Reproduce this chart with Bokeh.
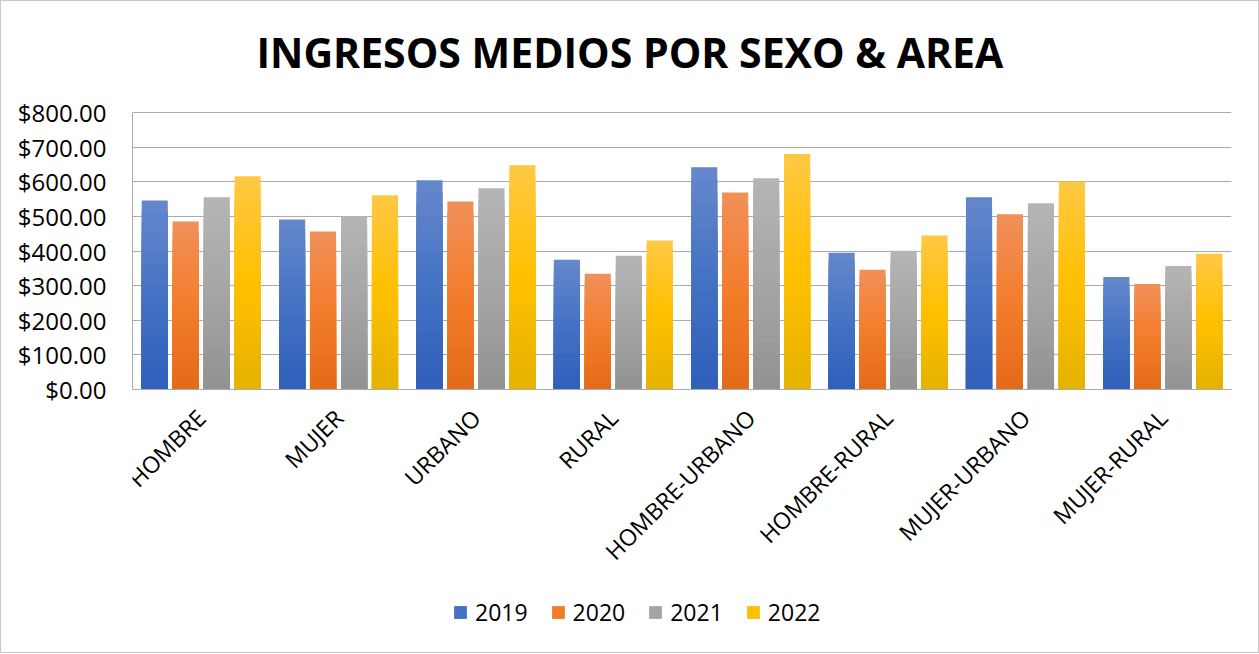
import math
from bokeh.plotting import figure
from bokeh.models import (ColumnDataSource, FactorRange, Legend, LegendItem,
                          FixedTicker, NumeralTickFormatter, Range1d)
from bokeh.transform import dodge
from bokeh.embed import file_html
from bokeh.resources import INLINE

categories = ["HOMBRE", "MUJER", "URBANO", "RURAL", "HOMBRE-URBANO",
              "HOMBRE-RURAL", "MUJER-URBANO", "MUJER-RURAL"]
years = ["2019", "2020", "2021", "2022"]
v2019 = [546, 491, 604, 375, 642, 395, 555, 325]
v2020 = [485, 456, 543, 334, 569, 346, 506, 305]
v2021 = [555, 501, 581, 386, 610, 401, 538, 357]
v2022 = [616, 561, 648, 430, 680, 445, 601, 392]
y_ticks = [0, 100, 200, 300, 400, 500, 600, 700, 800]

# gradient stops per series: (top, middle, bottom)
grad_stops = [("#6688CC", "#4472C4", "#2F5FB9"),
              ("#F0905A", "#F47D2C", "#E36A18"),
              ("#B5B5B5", "#A5A5A5", "#929292"),
              ("#FFC845", "#FFC000", "#E5B200")]


def hex2rgb(h):
    h = h.lstrip("#")
    return tuple(int(h[i:i + 2], 16) for i in (0, 2, 4))


def mix(c1, c2, t):
    a, b = hex2rgb(c1), hex2rgb(c2)
    return "#%02x%02x%02x" % tuple(round(a[i] + (b[i] - a[i]) * t) for i in range(3))


def grad_color(stops, t):
    top, mid, bot = stops
    if t <= 0.5:
        return mix(top, mid, t / 0.5)
    return mix(mid, bot, (t - 0.5) / 0.5)


series = [v2019, v2020, v2021, v2022]
N = 18
data = dict(cat=categories)
for si, vals in enumerate(series):
    for k in range(1, N + 1):
        data["s%d_%d" % (si, k)] = [v * k / N for v in vals]
source = ColumnDataSource(data=data)

FONT = "Open Sans"

# layout geometry (pixels): value axis 0..800 spans 277 px; the frame is
# extended above and below so the legend can sit inside it
AXIS_PX = 277.0
PX_PER_UNIT = AXIS_PX / 800.0
EXTRA_TOP = 11
EXTRA_BOTTOM = 263
FRAME_H = int(AXIS_PX + EXTRA_TOP + EXTRA_BOTTOM)
y_start = -EXTRA_BOTTOM / PX_PER_UNIT
y_end = 800 + EXTRA_TOP / PX_PER_UNIT

p = figure(x_range=FactorRange(*categories, range_padding=0),
           y_range=Range1d(y_start, y_end),
           frame_width=1099, frame_height=FRAME_H,
           output_backend="svg", toolbar_location=None,
           min_border_left=131, min_border_right=27, min_border_top=100,
           min_border_bottom=0)

p.title.text = "INGRESOS MEDIOS POR SEXO & AREA"
p.title.align = "left"
p.title.offset = 124
p.title.vertical_align = "top"
p.title.text_font = FONT
p.title.text_font_style = "bold"
p.title.text_font_size = "41px"
p.title.text_color = "#000000"
p.title.standoff = 40

bar_w = 0.19
offsets = [-0.338, -0.113, 0.113, 0.338]
legend_renderers = []
for si, off in enumerate(offsets):
    mid_r = None
    for k in range(N, 0, -1):
        t = 1 - (k - 0.5) / N
        r = p.vbar(x=dodge("cat", off, range=p.x_range), top="s%d_%d" % (si, k),
                   width=bar_w, source=source,
                   fill_color=grad_color(grad_stops[si], t), line_color=None)
        if k == N // 2:
            mid_r = r
    legend_renderers.append(mid_r)

p.xgrid.grid_line_color = None
p.ygrid.grid_line_color = "#ababab"
p.ygrid.grid_line_width = 1
p.ygrid.ticker = FixedTicker(ticks=y_ticks)
p.outline_line_color = None

p.yaxis.ticker = FixedTicker(ticks=y_ticks)
p.yaxis.bounds = (0, 800)
p.yaxis.formatter = NumeralTickFormatter(format="$0.00")
p.yaxis.axis_line_color = "#ababab"
p.yaxis.major_tick_line_color = None
p.yaxis.minor_tick_line_color = None
p.yaxis.major_tick_out = 0
p.yaxis.major_label_standoff = 26
p.yaxis.major_label_text_font = FONT
p.yaxis.major_label_text_font_size = "24px"
p.yaxis.major_label_text_color = "#000000"

p.xaxis.fixed_location = 0
p.xaxis.axis_line_color = "#ababab"
p.xaxis.major_tick_line_color = None
p.xaxis.minor_tick_line_color = None
p.xaxis.major_tick_out = 0
p.xaxis.major_label_orientation = math.pi / 4
p.xaxis.major_label_standoff = 24
p.xaxis.major_label_text_font = FONT
p.xaxis.major_label_text_font_size = "23px"
p.xaxis.major_label_text_color = "#000000"

legend = Legend(items=[LegendItem(label=y, renderers=[r]) for y, r in zip(years, legend_renderers)],
                orientation="horizontal", location=(320, 24))
legend.label_text_font = FONT
legend.label_text_font_size = "23px"
legend.label_text_color = "#000000"
legend.glyph_width = 16
legend.glyph_height = 16
legend.spacing = 22
legend.label_standoff = 7
legend.padding = 0
legend.margin = 0
legend.border_line_color = None
legend.background_fill_alpha = 0
p.add_layout(legend, "center")

p.styles = {"border": "1px solid #c8c8c8", "box-sizing": "border-box"}

open("out.html", "w").write(file_html(p, INLINE))
